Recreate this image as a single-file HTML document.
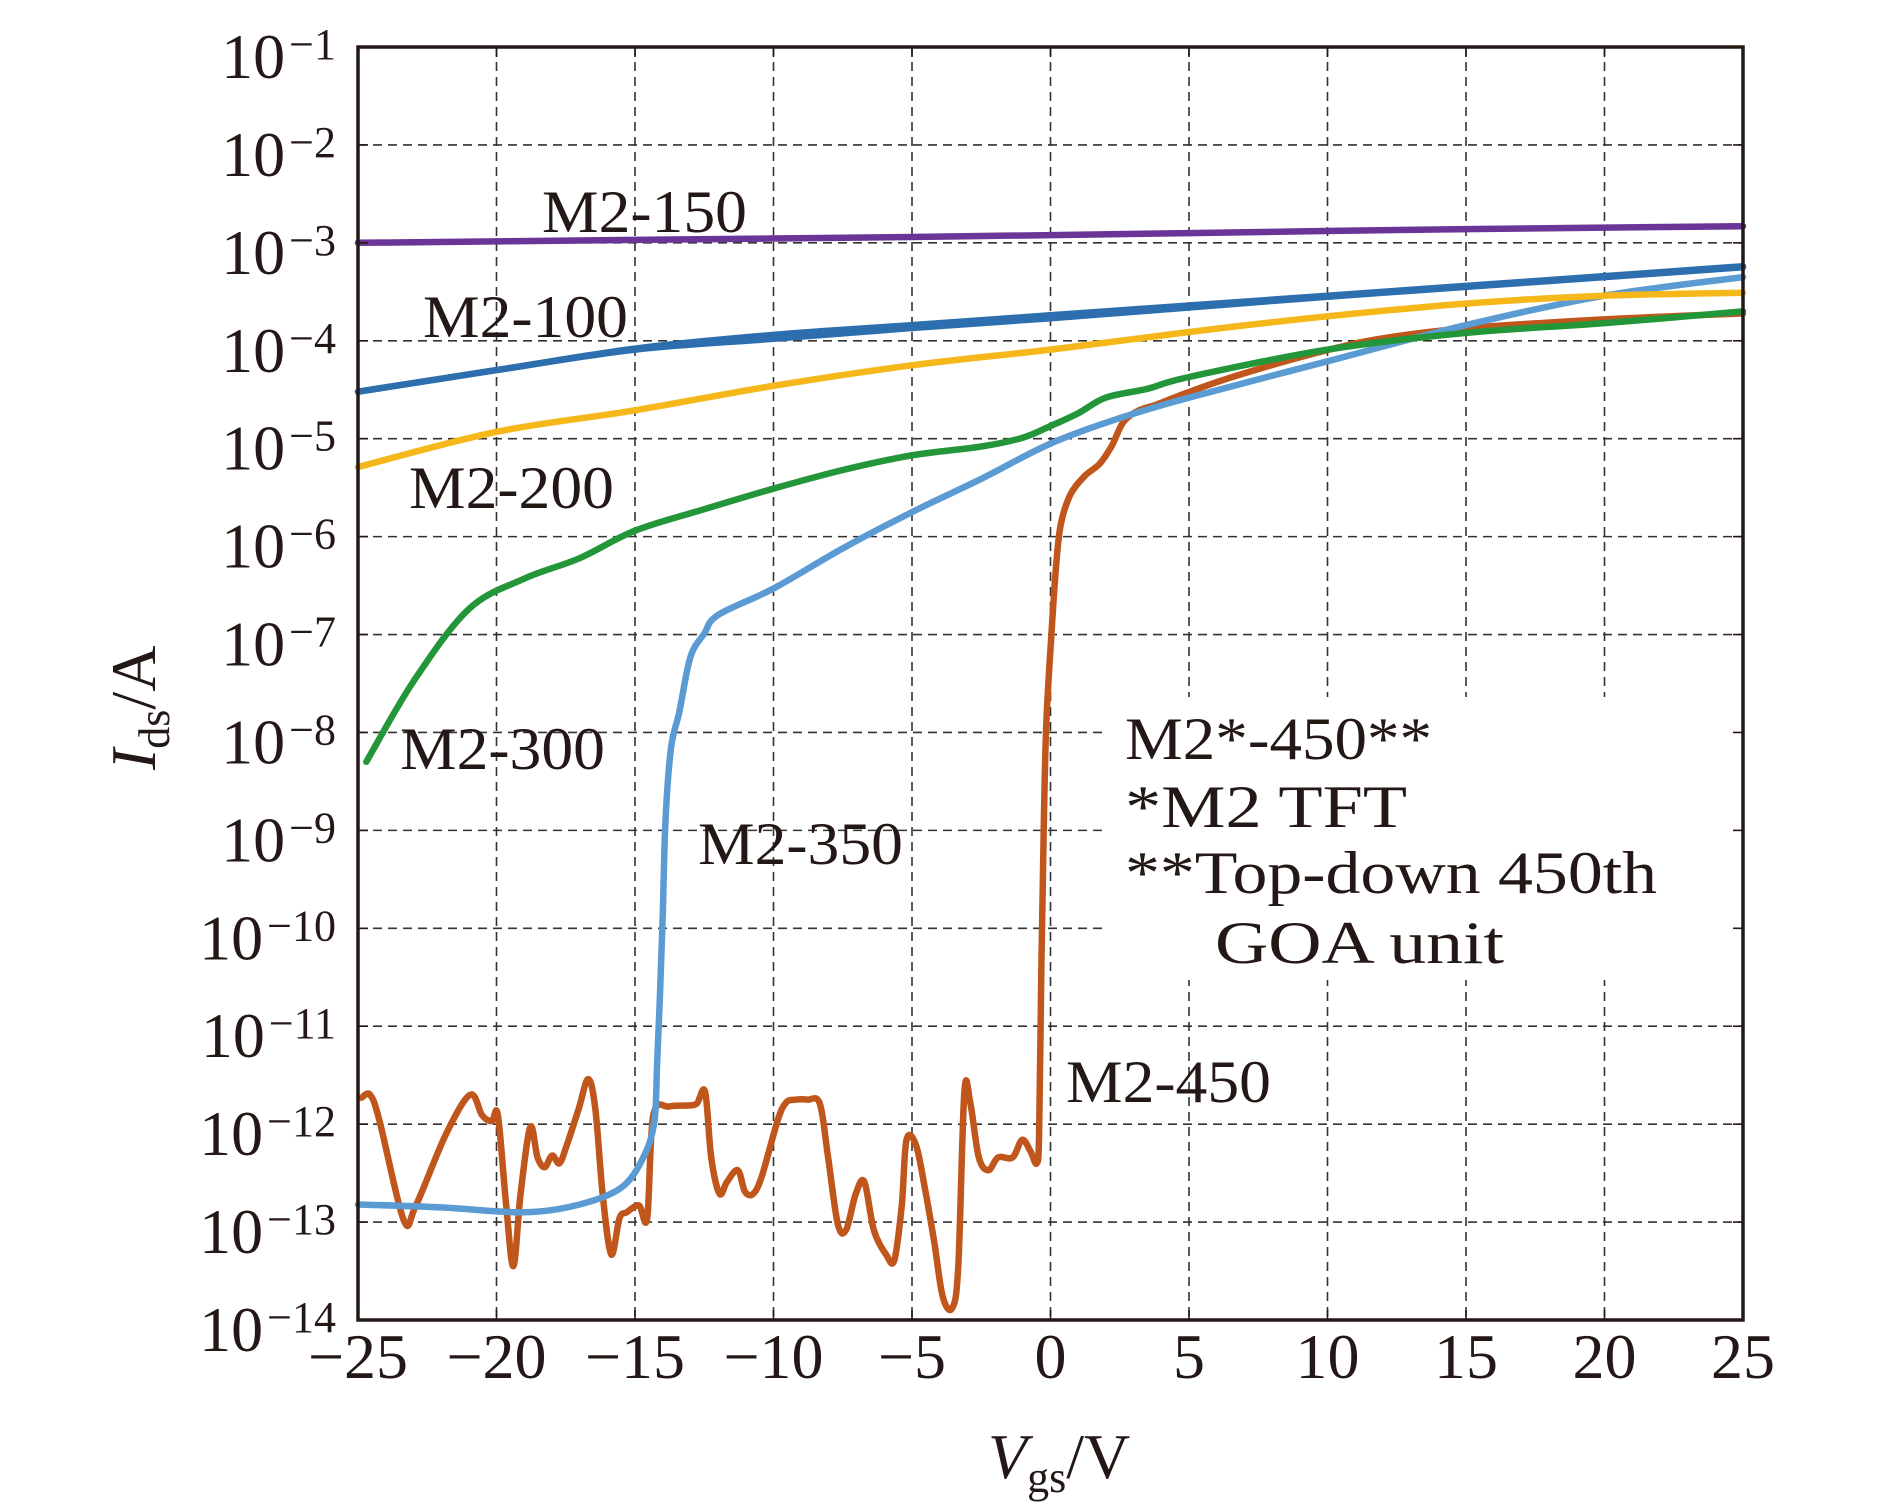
<!DOCTYPE html>
<html><head><meta charset="utf-8"><style>
html,body{margin:0;padding:0;background:#fff;}
svg{display:block;font-family:"Liberation Serif",serif;}
</style></head>
<body>
<svg id="chart" width="1890" height="1512" viewBox="0 0 1890 1512" xmlns="http://www.w3.org/2000/svg">
<rect width="1890" height="1512" fill="#fff"/>
<g id="grid"></g>
<g id="series"></g>
<rect x="1107" y="697" width="634" height="283" fill="#fff"/>
<g id="frame"></g>
<g id="ticklabels"></g>
<g font-size="60" fill="#231815">
<text x="542" y="232" textLength="205" lengthAdjust="spacingAndGlyphs">M2-150</text>
<text x="423" y="337" textLength="205" lengthAdjust="spacingAndGlyphs">M2-100</text>
<text x="409" y="508" textLength="205" lengthAdjust="spacingAndGlyphs">M2-200</text>
<text x="400" y="769" textLength="205" lengthAdjust="spacingAndGlyphs">M2-300</text>
<text x="698" y="864" textLength="205" lengthAdjust="spacingAndGlyphs">M2-350</text>
<text x="1066" y="1102" textLength="205" lengthAdjust="spacingAndGlyphs">M2-450</text>
</g>
<g font-size="60" fill="#231815">
<text x="1125" y="759" textLength="307" lengthAdjust="spacingAndGlyphs">M2*-450**</text>
<text x="1125" y="827" textLength="282" lengthAdjust="spacingAndGlyphs">*M2 TFT</text>
<text x="1125" y="893" textLength="532" lengthAdjust="spacingAndGlyphs">**Top-down 450th</text>
<text x="1215" y="963" textLength="289" lengthAdjust="spacingAndGlyphs">GOA unit</text>
</g>
<text x="988" y="1478" font-size="64" fill="#231815"><tspan font-style="italic">V</tspan><tspan font-size="44" dy="14">gs</tspan><tspan dy="-14">/V</tspan></text>
<text transform="translate(155,770) rotate(-90)" font-size="64" fill="#231815"><tspan font-style="italic">I</tspan><tspan font-size="44" dy="14">ds</tspan><tspan dy="-14">/A</tspan></text>
</svg>
<script>
const xTicks = [-25,-20,-15,-10,-5,0,5,10,15,20,25];
const yDecades = [-1,-2,-3,-4,-5,-6,-7,-8,-9,-10,-11,-12,-13,-14];
// series: V values and log10(I) values
const v150 = [-25,-15,-5,5,15,25];
const l150 = [-3.0,-2.97,-2.94,-2.9,-2.86,-2.83];
const v100a = [-25,-20,-15,-10,-5,0,5,10,15,20,25];
const l100a = [-4.52,-4.3,-4.09,-3.98,-3.87,-3.77,-3.66,-3.55,-3.45,-3.35,-3.25];
const v100b = [-25,-20,-15,-10,-5,0,5,10,15,20,25];
const l100b = [-4.52,-4.3,-4.08,-3.94,-3.84,-3.74,-3.64,-3.54,-3.44,-3.34,-3.24];
const v200 = [-25,-20,-15,-10,-5,0,5,10,15,20,25];
const l200 = [-5.29,-4.93,-4.71,-4.46,-4.25,-4.09,-3.91,-3.75,-3.62,-3.54,-3.51];
const v300 = [-24.7,-23,-21,-19,-17,-15,-12.5,-10,-7.5,-5,-2.5,-1,0,1,2,3.5,5,10,15,20,25];
const l300 = [-8.3,-7.48,-6.74,-6.43,-6.22,-5.94,-5.72,-5.51,-5.32,-5.17,-5.08,-4.99,-4.87,-4.74,-4.58,-4.49,-4.37,-4.09,-3.92,-3.82,-3.7];
const v350 = [-25,-22,-19,-17,-15.5,-14.7,-14.3,-14.2,-14.1,-14,-13.9,-13.7,-13.4,-13,-12.5,-12,-10,-7.5,-5,-2.5,0,2.5,5,10,15,20,25];
const l350 = [-12.82,-12.85,-12.9,-12.82,-12.65,-12.34,-11.97,-11.36,-10.7,-9.88,-8.9,-8.16,-7.79,-7.23,-6.99,-6.8,-6.53,-6.12,-5.75,-5.41,-5.05,-4.79,-4.58,-4.21,-3.84,-3.54,-3.35];
const v450 = [-24.87,-24.56,-24.22,-23.35,-22.91,-21.82,-20.95,-20.52,-20.17,-19.95,-19.65,-19.39,-19.13,-18.78,-18.52,-18.26,-17.99,-17.73,-17.47,-17.04,-16.69,-16.43,-16.17,-15.86,-15.56,-15.3,-14.86,-14.56,-14.34,-13.77,-13.12,-12.77,-12.47,-12.25,-11.95,-11.68,-11.29,-11.03,-10.73,-10.42,-9.86,-9.55,-9.2,-8.77,-8.33,-8.03,-7.68,-7.38,-7.03,-6.72,-6.38,-5.94,-5.64,-5.37,-5.2,-4.85,-4.5,-4.2,-3.89,-3.55,-3.33,-3.11,-2.89,-2.59,-2.24,-1.89,-1.37,-1.02,-0.72,-0.5,-0.41,-0.33,-0.24,-0.15,0.02,0.2,0.37,0.72,1.24,1.76,2.2,2.63,3.2,3.85,5.03,6.9,10.07,12.12,15.08,20.08,25];
const l450 = [-11.73,-11.7,-11.97,-12.98,-12.83,-12.1,-11.7,-11.91,-11.97,-11.91,-12.83,-13.45,-12.71,-12.03,-12.34,-12.44,-12.32,-12.4,-12.22,-11.85,-11.54,-11.85,-12.71,-13.33,-12.96,-12.9,-12.83,-12.96,-11.91,-11.82,-11.81,-11.79,-11.67,-12.34,-12.71,-12.59,-12.47,-12.69,-12.71,-12.53,-11.97,-11.78,-11.75,-11.75,-11.79,-12.34,-13.02,-13.08,-12.71,-12.59,-13.08,-13.33,-13.39,-12.83,-12.16,-12.22,-12.71,-13.2,-13.76,-13.88,-13.45,-11.67,-11.79,-12.34,-12.47,-12.34,-12.34,-12.16,-12.28,-12.4,-12.1,-10.37,-8.89,-7.91,-7.05,-6.31,-5.88,-5.57,-5.38,-5.26,-5.08,-4.83,-4.71,-4.65,-4.52,-4.34,-4.09,-3.97,-3.87,-3.78,-3.72];

const NS = "http://www.w3.org/2000/svg";
const L = 358, R = 1743, T = 47, B = 1320;
const xMin = -25, xMax = 25, yTop = -1, yBot = -14;
function xs(v){ return L + (v - xMin) / (xMax - xMin) * (R - L); }
function ys(l){ return T + (yTop - l) / (yTop - yBot) * (B - T); }
function mk(tag, attrs, parent){ const e = document.createElementNS(NS, tag); for (const k in attrs) e.setAttribute(k, attrs[k]); parent.appendChild(e); return e; }
function smoothPath(p){
  let d = 'M' + p[0][0].toFixed(1) + ',' + p[0][1].toFixed(1);
  for (let i = 0; i < p.length - 1; i++){
    const p0 = p[Math.max(0, i - 1)], p1 = p[i], p2 = p[i + 1], p3 = p[Math.min(p.length - 1, i + 2)];
    const t = 0.5 / 3;
    const c1 = [p1[0] + (p2[0] - p0[0]) * t, p1[1] + (p2[1] - p0[1]) * t];
    const c2 = [p2[0] - (p3[0] - p1[0]) * t, p2[1] - (p3[1] - p1[1]) * t];
    // keep control x monotone to avoid loops on steep segments
    c1[0] = Math.min(Math.max(c1[0], p1[0]), p2[0]);
    c2[0] = Math.min(Math.max(c2[0], p1[0]), p2[0]);
    d += ' C' + c1[0].toFixed(1) + ',' + c1[1].toFixed(1) + ' ' + c2[0].toFixed(1) + ',' + c2[1].toFixed(1) + ' ' + p2[0].toFixed(1) + ',' + p2[1].toFixed(1);
  }
  return d;
}

const grid = document.getElementById('grid');
xTicks.forEach(v => {
  if (v === xMin || v === xMax) return;
  const ln = mk('line', {x1: xs(v), x2: xs(v), y1: T, y2: B, stroke: '#333', 'stroke-width': 1.6, 'stroke-dasharray': '9,6'}, grid);
  
  
});
yDecades.forEach(d => {
  if (d === yTop || d === yBot) return;
  const ln = mk('line', {x1: L, x2: R, y1: ys(d), y2: ys(d), stroke: '#333', 'stroke-width': 1.6, 'stroke-dasharray': '9,6'}, grid);
  
  
});

const series = [
  ['series-m2-450', v450, l450, '#c0561c'],
  ['series-m2-350', v350, l350, '#5b9bd3'],
  ['series-m2-300', v300, l300, '#24963a'],
  ['series-m2-200', v200, l200, '#f5b71a'],
  ['series-m2-100-a', v100a, l100a, '#2d6fae'],
  ['series-m2-100-b', v100b, l100b, '#2d6fae'],
  ['series-m2-150', v150, l150, '#6a3596']
];
const sg = document.getElementById('series');
series.forEach(s => {
  const [name, vx, ly, col] = s;
  const pts = vx.map((v, i) => [xs(v), ys(ly[i])]);
  const pl = mk('path', {d: smoothPath(pts), fill: 'none', stroke: col, 'stroke-width': 6.5, 'stroke-linejoin': 'round', 'stroke-linecap': 'round'}, sg);
  
  
});

const fr = document.getElementById('frame');
const box = mk('rect', {x: L, y: T, width: R - L, height: B - T, fill: 'none', stroke: '#231815', 'stroke-width': 3.5}, fr);


xTicks.forEach(v => {
  const t1 = mk('line', {x1: xs(v), x2: xs(v), y1: B, y2: B - 10, stroke: '#231815', 'stroke-width': 1.6}, fr);
  
  
  const t2 = mk('line', {x1: xs(v), x2: xs(v), y1: T, y2: T + 10, stroke: '#231815', 'stroke-width': 1.6}, fr);
  
  
});
yDecades.forEach(d => {
  const t1 = mk('line', {x1: L, x2: L + 10, y1: ys(d), y2: ys(d), stroke: '#231815', 'stroke-width': 1.6}, fr);
  
  
  const t2 = mk('line', {x1: R, x2: R - 10, y1: ys(d), y2: ys(d), stroke: '#231815', 'stroke-width': 1.6}, fr);
  
  
});

const tl = document.getElementById('ticklabels');
xTicks.forEach(v => {
  const t = mk('text', {x: xs(v), y: 1378, 'text-anchor': 'middle', 'font-size': 64, fill: '#231815'}, tl);
  t.textContent = (v < 0 ? '\u2212' + (-v) : '' + v);
  
  
});
yDecades.forEach(d => {
  const t = mk('text', {x: 336, y: ys(d) + 31, 'text-anchor': 'end', 'font-size': 64, fill: '#231815'}, tl);
  
  
  const a = document.createElementNS(NS, 'tspan'); a.textContent = '10'; t.appendChild(a);
  const b = document.createElementNS(NS, 'tspan'); b.setAttribute('font-size', '44'); b.setAttribute('dy', '-19'); b.setAttribute('dx', '4');
  b.textContent = '\u2212' + (-d); t.appendChild(b);
});
</script>
</body></html>
